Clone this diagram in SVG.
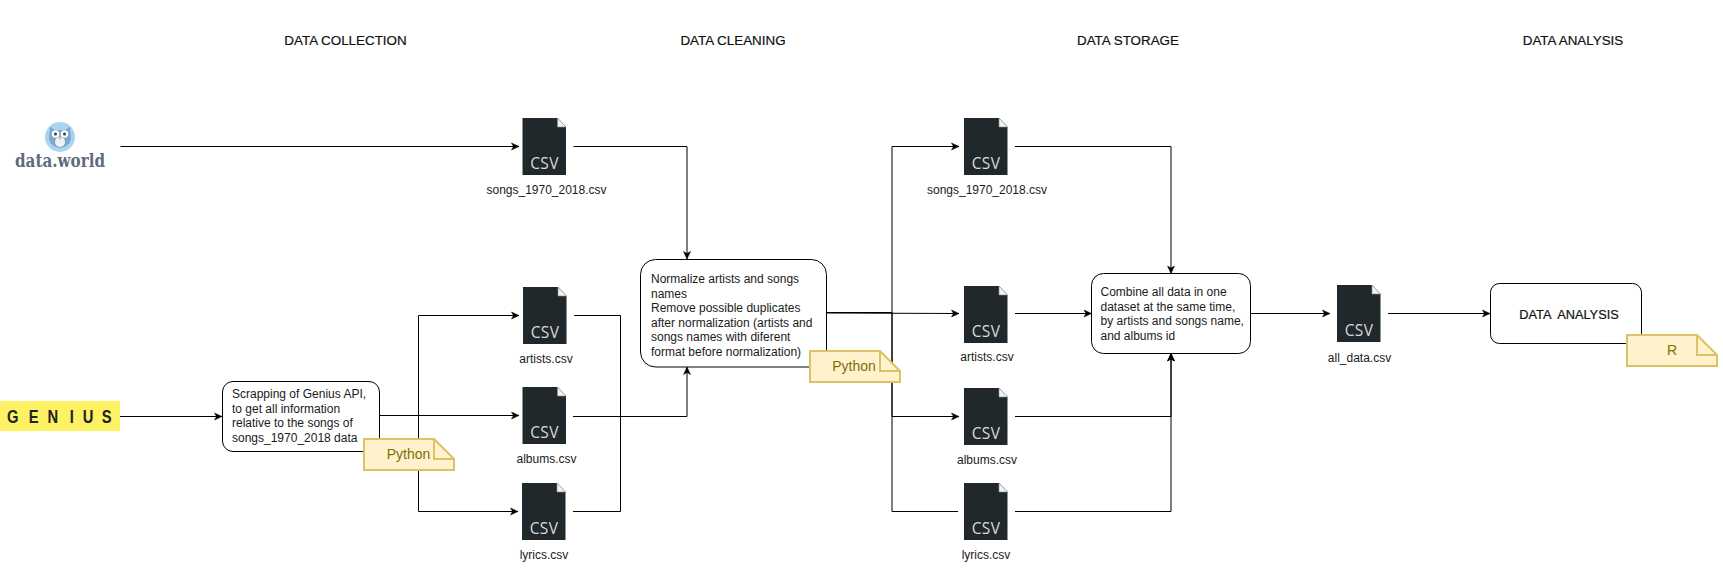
<svg xmlns="http://www.w3.org/2000/svg" width="1723" height="571" viewBox="0 0 1723 571">
<style>
text{font-family:"Liberation Sans",Arial,sans-serif;fill:#1a1a1a}
.t{font-size:12px}
.m{font-size:12px;text-anchor:middle}
.h{font-size:13.400px;text-anchor:middle;fill:#111;stroke:#111;stroke-width:.2}
.box{fill:#fff;stroke:#000;stroke-width:1}
.ic{fill:#20282b}
.fold{fill:#f2f2f2;stroke:#8a8f90;stroke-width:.6}
.csv{font-family:"Open Sans",sans-serif;font-size:15.500px;letter-spacing:.3px;fill:#d8dbdb;text-anchor:middle}
.note{fill:#fff2cc;stroke:#dcc266;stroke-width:2}
.nt{font-size:14px;fill:#7f6f00;text-anchor:middle}
.c{fill:none;stroke:#000;stroke-width:1}
.a{marker-end:url(#arr)}
</style>
<defs>
<marker id="arr" markerUnits="userSpaceOnUse" markerWidth="9" markerHeight="9" refX="8" refY="4.5" orient="auto">
<path d="M0.5,1 L8,4.500 L0.5,8 L2.500,4.500 Z" fill="#000" stroke="#000" stroke-width=".5"/>
</marker>
</defs>
<rect width="1723" height="571" fill="#fff"/>

<g id="connectors">
<path class="c a" d="M120.500 146.500H519"/>
<path class="c a" d="M120 416.500H222"/>
<path class="c a" d="M573.500 146.500H687V259"/>
<path class="c a" d="M379.500 415.500H519"/>
<path class="c a" d="M418.500 415.500V315.500H519"/>
<path class="c a" d="M418.500 415.500V511.500H518"/>
<path class="c" d="M574 315.500H620.500V511.500H573"/>
<path class="c a" d="M573 416.500H687V367"/>
<path class="c a" d="M826.500 312.500H892V146.500H959"/>
<path class="c a" d="M826.500 313L959 313.500"/>
<path class="c a" d="M892 312.500V416.500H959"/>
<path class="c" d="M892 312.500V511.500H958"/>
<path class="c a" d="M1015 146.500H1171V273.500"/>
<path class="c a" d="M1015 313.500H1091.500"/>
<path class="c a" d="M1015 416.500H1171V353.500"/>
<path class="c a" d="M1015 511.500H1171V353.500"/>
<path class="c a" d="M1250.500 313.500H1330"/>
<path class="c a" d="M1388 313.500H1490"/>
</g>

<g id="title-collection"><text class="h" x="345.500" y="44.500">DATA COLLECTION</text></g>
<g id="title-cleaning"><text class="h" x="733" y="44.500">DATA CLEANING</text></g>
<g id="title-storage"><text class="h" x="1128" y="44.500">DATA STORAGE</text></g>
<g id="title-analysis"><text class="h" x="1573" y="44.500">DATA ANALYSIS</text></g>

<g id="dataworld">
<circle cx="60" cy="137" r="15" fill="#a9d6ec"/>
<path d="M50,127 L55,130 H65 L70,127 L71,139 Q69,147 60,148 Q51,147 49,139 Z" fill="#7aa6cf"/>
<ellipse cx="60" cy="142" rx="5" ry="5" fill="#eef2f5"/>
<circle cx="55.500" cy="134" r="3.800" fill="#fff"/><circle cx="64.500" cy="134" r="3.800" fill="#fff"/>
<circle cx="55.500" cy="134" r="1.500" fill="#2c3e50"/><circle cx="64.500" cy="134" r="1.500" fill="#2c3e50"/>
<path d="M58.500,137.500 H61.500 L60,140 Z" fill="#e9a765"/>
<text x="15" y="166.500" style="font-family:'DejaVu Serif',serif;font-weight:700;font-size:19px;fill:#5f6c7c" textLength="90" lengthAdjust="spacingAndGlyphs">data.world</text>
</g>

<g id="genius">
<rect x="0" y="401" width="120" height="30" fill="#fcf264"/>
<text transform="translate(0,422.500) scale(.82,1)" x="8.500 35 58 85 101 124" y="0" style="font-size:18px;font-weight:700;fill:#222">GENIUS</text>
</g>

<g id="scrape">
<rect class="box" x="222.500" y="381.500" width="157" height="70" rx="10.500"/>
<text class="t" x="232" y="398">Scrapping of Genius API,</text>
<text class="t" x="232" y="412.500">to get all information</text>
<text class="t" x="232" y="427">relative to the songs of</text>
<text class="t" x="232" y="441.500">songs_1970_2018 data</text>
</g>
<g id="python1">
<path class="note" d="M364,439H434L454,459V470H364Z"/><path class="note" d="M434,439V459H454" style="fill:none"/>
<text class="nt" x="408.500" y="459">Python</text>
</g>

<g id="songs1" transform="translate(522.500,118)"><path class="ic" d="M0,0H35L43.500,9V57H0Z"/><path class="fold" d="M35,0V9H43.500Z"/><text class="csv" x="22" y="50.500">CSV</text><text class="m" x="24" y="75.500">songs_1970_2018.csv</text></g>
<g id="artists1" transform="translate(523,287)"><path class="ic" d="M0,0H35L43.500,9V57H0Z"/><path class="fold" d="M35,0V9H43.500Z"/><text class="csv" x="22" y="50.500">CSV</text><text class="m" x="23" y="76">artists.csv</text></g>
<g id="albums1" transform="translate(522.500,387)"><path class="ic" d="M0,0H35L43.500,9V57H0Z"/><path class="fold" d="M35,0V9H43.500Z"/><text class="csv" x="22" y="50.500">CSV</text><text class="m" x="24" y="76">albums.csv</text></g>
<g id="lyrics1" transform="translate(522,483)"><path class="ic" d="M0,0H35L43.500,9V57H0Z"/><path class="fold" d="M35,0V9H43.500Z"/><text class="csv" x="22" y="50.500">CSV</text><text class="m" x="22" y="76">lyrics.csv</text></g>

<g id="normalize">
<rect class="box" x="640.500" y="259.500" width="186" height="107.500" rx="15"/>
<text class="t" x="651" y="283">Normalize artists and songs</text>
<text class="t" x="651" y="297.500">names</text>
<text class="t" x="651" y="312">Remove possible duplicates</text>
<text class="t" x="651" y="326.500">after normalization (artists and</text>
<text class="t" x="651" y="341">songs names with diferent</text>
<text class="t" x="651" y="355.500">format before normalization)</text>
</g>
<g id="python2">
<path class="note" d="M810,351H880L900,371V382H810Z"/><path class="note" d="M880,351V371H900" style="fill:none"/>
<text class="nt" x="854" y="371">Python</text>
</g>

<g id="songs2" transform="translate(964,118)"><path class="ic" d="M0,0H35L43.500,9V57H0Z"/><path class="fold" d="M35,0V9H43.500Z"/><text class="csv" x="22" y="50.500">CSV</text><text class="m" x="23" y="75.500">songs_1970_2018.csv</text></g>
<g id="artists2" transform="translate(964,286)"><path class="ic" d="M0,0H35L43.500,9V57H0Z"/><path class="fold" d="M35,0V9H43.500Z"/><text class="csv" x="22" y="50.500">CSV</text><text class="m" x="23" y="74.500">artists.csv</text></g>
<g id="albums2" transform="translate(964,388)"><path class="ic" d="M0,0H35L43.500,9V57H0Z"/><path class="fold" d="M35,0V9H43.500Z"/><text class="csv" x="22" y="50.500">CSV</text><text class="m" x="23" y="75.500">albums.csv</text></g>
<g id="lyrics2" transform="translate(964,483)"><path class="ic" d="M0,0H35L43.500,9V57H0Z"/><path class="fold" d="M35,0V9H43.500Z"/><text class="csv" x="22" y="50.500">CSV</text><text class="m" x="22" y="76">lyrics.csv</text></g>

<g id="combine">
<rect class="box" x="1091.500" y="273.500" width="159" height="80" rx="12"/>
<text class="t" x="1100.500" y="296">Combine all data in one</text>
<text class="t" x="1100.500" y="310.500">dataset at the same time,</text>
<text class="t" x="1100.500" y="325">by artists and songs name,</text>
<text class="t" x="1100.500" y="339.500">and albums id</text>
</g>

<g id="alldata" transform="translate(1337,285)"><path class="ic" d="M0,0H35L43.500,9V57H0Z"/><path class="fold" d="M35,0V9H43.500Z"/><text class="csv" x="22" y="50.500">CSV</text><text class="m" x="22.500" y="77">all_data.csv</text></g>

<g id="analysis">
<rect class="box" x="1490.500" y="283.500" width="151" height="60" rx="9"/>
<text class="h" x="1569" y="318.500" xml:space="preserve" style="font-size:12.800px">DATA  ANALYSIS</text>
</g>
<g id="r-note">
<path class="note" d="M1627,335H1697L1717,355V366H1627Z"/><path class="note" d="M1697,335V355H1717" style="fill:none"/>
<text class="nt" x="1672" y="355">R</text>
</g>
</svg>
